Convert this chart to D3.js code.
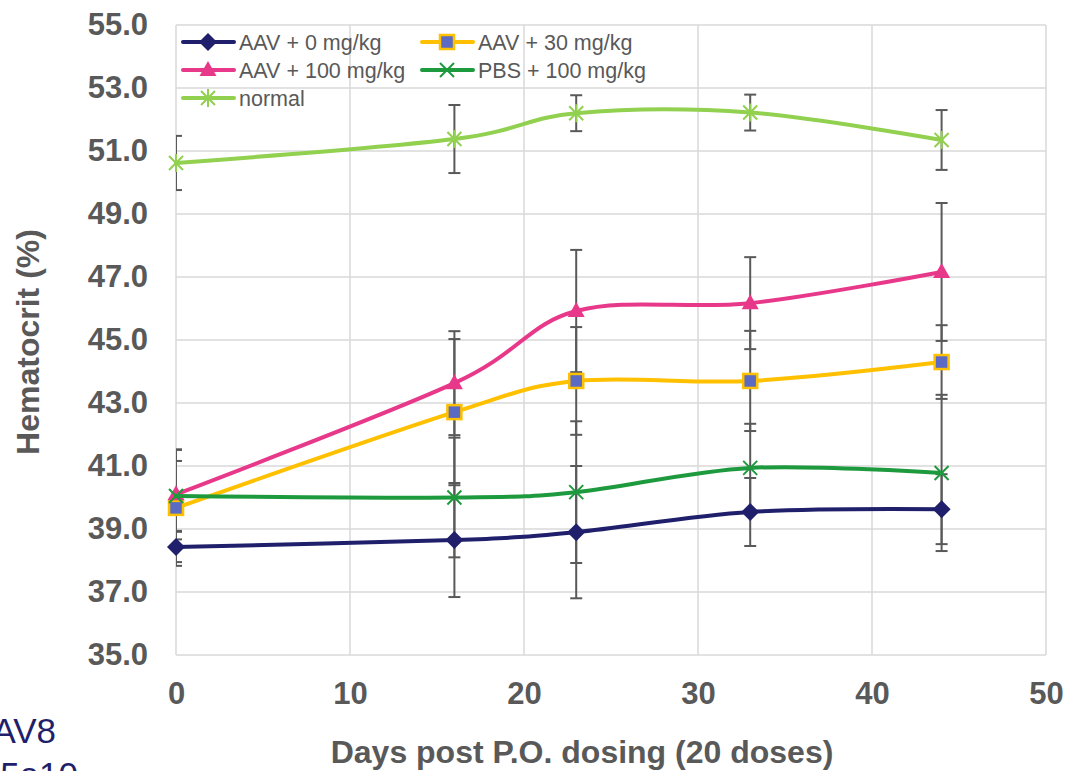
<!DOCTYPE html>
<html>
<head>
<meta charset="utf-8">
<script src="https://cdn.jsdelivr.net/npm/d3@7"></script>
<style>
  html, body { margin: 0; padding: 0; background: #ffffff; }
  svg { display: block; }
  text { font-family: "Liberation Sans", Arial, sans-serif; }
</style>
</head>
<body>
<svg id="chart" width="1068" height="771"></svg>
<script>
// ---------- data ----------
const days = [0, 16, 23, 33, 44];
const seriesNames = ["AAV + 0 mg/kg", "AAV + 30 mg/kg", "AAV + 100 mg/kg", "PBS + 100 mg/kg", "normal"];
const aav0Values   = [38.43, 38.65, 38.90, 39.54, 39.63];
const aav0Errors   = [0.48, 1.81, 2.10, 1.08, 1.11];
const aav30Values  = [39.67, 42.71, 43.70, 43.70, 44.30];
const aav30Errors  = [1.84, 2.32, 1.71, 1.59, 1.17];
const aav100Values = [40.10, 43.63, 45.92, 46.17, 47.16];
const aav100Errors = [1.43, 1.65, 1.94, 1.46, 2.19];
const pbsValues    = [40.05, 40.00, 40.17, 40.94, 40.78];
const pbsErrors    = [1.11, 1.90, 2.25, 1.40, 2.48];
const normalValues = [50.62, 51.38, 52.20, 52.22, 51.35];
const normalErrors = [0.86, 1.08, 0.57, 0.57, 0.95];
const yTicks = [35, 37, 39, 41, 43, 45, 47, 49, 51, 53, 55];
const xTicks = [0, 10, 20, 30, 40, 50];
const yTitle = "Hematocrit (%)";
const xTitle = "Days post P.O. dosing (20 doses)";
const sideNote = ["AAV8", "5e10"];

// ---------- styles ----------
const styles = [
  { color: "#1F1F6B", marker: "diamond" },
  { color: "#FFC000", marker: "square", fill: "#5B6BC4" },
  { color: "#E8388A", marker: "triangle" },
  { color: "#1E9A3E", marker: "x" },
  { color: "#92D050", marker: "star" }
];
const valueSets = [aav0Values, aav30Values, aav100Values, pbsValues, normalValues];
const errorSets = [aav0Errors, aav30Errors, aav100Errors, pbsErrors, normalErrors];
const series = seriesNames.map((name, i) => ({
  name, style: styles[i],
  points: days.map((d, j) => ({ day: d, value: valueSets[i][j], err: errorSets[i][j] }))
}));

const svg = d3.select("#chart");
const pLeft = 176, pRight = 1046, pTop = 25, pBottom = 655;
const x = d3.scaleLinear().domain([0, 50]).range([pLeft, pRight]);
const y = d3.scaleLinear().domain([35, 55]).range([pBottom, pTop]);
const grey = "#595959";
const gridColor = "#D9D9D9";

// gridlines
svg.append("g").selectAll("line").data(yTicks).join("line")
  .attr("x1", pLeft).attr("x2", pRight)
  .attr("y1", d => y(d)).attr("y2", d => y(d))
  .attr("stroke", gridColor).attr("stroke-width", 1.5);
svg.append("g").selectAll("line").data(xTicks).join("line")
  .attr("x1", d => x(d)).attr("x2", d => x(d))
  .attr("y1", pTop).attr("y2", pBottom)
  .attr("stroke", gridColor).attr("stroke-width", 1.5);

// axes (labels only)
const yAxis = d3.axisLeft(y).tickValues(yTicks).tickFormat(d3.format(".1f")).tickSize(0).tickPadding(28);
const yg = svg.append("g").attr("transform", `translate(${pLeft},0)`).call(yAxis);
yg.select(".domain").remove();
yg.selectAll("text").attr("fill", grey).attr("font-size", 31).attr("font-weight", "bold")
  .attr("font-family", "'Liberation Sans', Arial, sans-serif");

const xAxis = d3.axisBottom(x).tickValues(xTicks).tickFormat(d3.format("d")).tickSize(0).tickPadding(27);
const xg = svg.append("g").attr("transform", `translate(0,${pBottom})`).call(xAxis);
xg.select(".domain").remove();
xg.selectAll("text").attr("fill", grey).attr("font-size", 31).attr("font-weight", "bold")
  .attr("font-family", "'Liberation Sans', Arial, sans-serif");

// axis titles
svg.append("text").attr("transform", `translate(39,342) rotate(-90)`)
  .attr("text-anchor", "middle").attr("fill", grey).attr("font-size", 32).attr("font-weight", "bold")
  .text(yTitle);
svg.append("text").attr("x", 582).attr("y", 763)
  .attr("text-anchor", "middle").attr("fill", grey).attr("font-size", 32).attr("font-weight", "bold")
  .text(xTitle);

// side note (partly outside the picture, as in the reference)
svg.append("text").attr("x", 56).attr("y", 743).attr("text-anchor", "end")
  .attr("fill", "#1F1F6B").attr("font-size", 35).text(sideNote[0]);
svg.append("text").attr("x", 78).attr("y", 787).attr("text-anchor", "end")
  .attr("fill", "#1F1F6B").attr("font-size", 35).text(sideNote[1]);

// clip for error bars
svg.append("clipPath").attr("id", "plotclip").append("rect")
  .attr("x", pLeft).attr("y", pTop).attr("width", pRight - pLeft).attr("height", pBottom - pTop);

// error bars
const eg = svg.append("g").attr("clip-path", "url(#plotclip)");
series.forEach(s => {
  s.points.forEach(p => {
    const cx = x(p.day), y1 = y(p.value + p.err), y2 = y(p.value - p.err);
    eg.append("line").attr("x1", cx).attr("x2", cx).attr("y1", y1).attr("y2", y2)
      .attr("stroke", grey).attr("stroke-width", 2);
    [y1, y2].forEach(yy => eg.append("line").attr("x1", cx - 6).attr("x2", cx + 6)
      .attr("y1", yy).attr("y2", yy).attr("stroke", grey).attr("stroke-width", 2));
  });
});

// markers
function drawMarker(g, style, cx, cy) {
  const c = style.color;
  if (style.marker === "diamond") {
    g.append("path").attr("d", `M${cx},${cy-9}L${cx+9},${cy}L${cx},${cy+9}L${cx-9},${cy}Z`).attr("fill", c);
  } else if (style.marker === "square") {
    g.append("rect").attr("x", cx - 7).attr("y", cy - 7).attr("width", 14).attr("height", 14)
      .attr("fill", style.fill).attr("stroke", c).attr("stroke-width", 2.5);
  } else if (style.marker === "triangle") {
    g.append("path").attr("d", `M${cx},${cy-9}L${cx+8.5},${cy+6}L${cx-8.5},${cy+6}Z`).attr("fill", c);
  } else if (style.marker === "x") {
    g.append("path").attr("d", `M${cx-7},${cy-7}L${cx+7},${cy+7}M${cx+7},${cy-7}L${cx-7},${cy+7}`)
      .attr("stroke", c).attr("stroke-width", 2).attr("fill", "none");
  } else if (style.marker === "star") {
    g.append("path").attr("d", `M${cx-7},${cy-7}L${cx+7},${cy+7}M${cx+7},${cy-7}L${cx-7},${cy+7}M${cx},${cy-9}L${cx},${cy+9}`)
      .attr("stroke", c).attr("stroke-width", 2).attr("fill", "none");
  }
}

const line = d3.line().x(p => x(p.day)).y(p => y(p.value)).curve(d3.curveCardinal.tension(0));
series.forEach(s => {
  const g = svg.append("g");
  g.append("path").datum(s.points).attr("d", line).attr("fill", "none")
    .attr("stroke", s.style.color).attr("stroke-width", 4).attr("stroke-linecap", "round");
  s.points.forEach(p => drawMarker(g, s.style, x(p.day), y(p.value)));
});

// legend
const legendPos = [
  { lx: 181, ty: 42 }, { lx: 420, ty: 42 },
  { lx: 181, ty: 70 }, { lx: 420, ty: 70 },
  { lx: 181, ty: 98 }
];
series.forEach((s, i) => {
  const pos = legendPos[i];
  const g = svg.append("g");
  g.append("line").attr("x1", pos.lx + 2).attr("x2", pos.lx + 53).attr("y1", pos.ty).attr("y2", pos.ty)
    .attr("stroke", s.style.color).attr("stroke-width", 4).attr("stroke-linecap", "round");
  drawMarker(g, s.style, pos.lx + 27, pos.ty);
  g.append("text").attr("x", pos.lx + 58).attr("y", pos.ty).attr("dy", "0.35em")
    .attr("fill", grey).attr("font-size", 21.5).text(s.name);
});
</script>
</body>
</html>
